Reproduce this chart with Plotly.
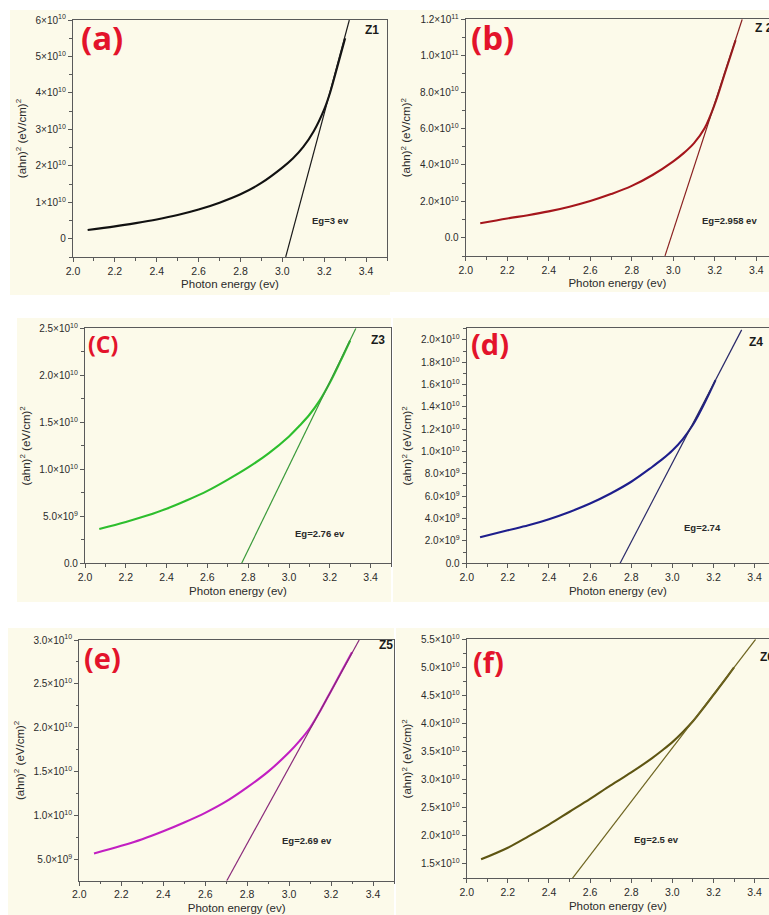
import plotly.graph_objects as go

W, H = 769, 915

# ---------------- data ----------------
x_tick_vals = [2.0, 2.2, 2.4, 2.6, 2.8, 3.0, 3.2, 3.4]
x_tick_text = ["2.0", "2.2", "2.4", "2.6", "2.8", "3.0", "3.2", "3.4"]

# (a) Z1
a_x = [2.07, 2.2, 2.3, 2.4, 2.5, 2.6, 2.7, 2.8, 2.9, 3.0, 3.05, 3.1, 3.15, 3.2, 3.225, 3.25, 3.3]
a_y = [0.24e10, 0.34e10, 0.43e10, 0.53e10, 0.65e10, 0.80e10, 0.99e10, 1.22e10, 1.53e10, 1.95e10,
       2.2e10, 2.52e10, 2.95e10, 3.55e10, 3.95e10, 4.45e10, 5.5e10]
a_fit_x = [3.016, 3.32]
a_fit_y = [-0.5e10, 6.0e10]
a_ytick_vals = [0, 1e10, 2e10, 3e10, 4e10, 5e10, 6e10]
a_ytick_text = ["0", "1×10<sup>10</sup>", "2×10<sup>10</sup>", "3×10<sup>10</sup>",
                "4×10<sup>10</sup>", "5×10<sup>10</sup>", "6×10<sup>10</sup>"]

# (b) Z2
b_x = [2.07, 2.2, 2.3, 2.4, 2.5, 2.6, 2.7, 2.8, 2.9, 3.0, 3.05, 3.1, 3.15, 3.2, 3.25, 3.3]
b_y = [0.80e10, 1.06e10, 1.24e10, 1.45e10, 1.71e10, 2.02e10, 2.4e10, 2.85e10, 3.45e10, 4.2e10,
       4.65e10, 5.2e10, 6.0e10, 7.35e10, 9.1e10, 10.85e10]
b_fit_x = [2.960, 3.332]
b_fit_y = [-0.99e10, 12.0e10]
b_ytick_vals = [0, 2e10, 4e10, 6e10, 8e10, 10e10, 12e10]
b_ytick_text = ["0.0", "2.0×10<sup>10</sup>", "4.0×10<sup>10</sup>", "6.0×10<sup>10</sup>",
                "8.0×10<sup>10</sup>", "1.0×10<sup>11</sup>", "1.2×10<sup>11</sup>"]

# (c) Z3
c_x = [2.07, 2.2, 2.3, 2.4, 2.5, 2.6, 2.7, 2.8, 2.9, 3.0, 3.05, 3.1, 3.15, 3.2, 3.25, 3.3]
c_y = [0.365e10, 0.44e10, 0.505e10, 0.58e10, 0.67e10, 0.77e10, 0.89e10, 1.02e10, 1.17e10, 1.35e10,
       1.46e10, 1.58e10, 1.73e10, 1.92e10, 2.14e10, 2.37e10]
c_fit_x = [2.768, 3.328]
c_fit_y = [0.0, 2.5e10]
c_ytick_vals = [0, 0.5e10, 1.0e10, 1.5e10, 2.0e10, 2.5e10]
c_ytick_text = ["0.0", "5.0×10<sup>9</sup>", "1.0×10<sup>10</sup>", "1.5×10<sup>10</sup>",
                "2.0×10<sup>10</sup>", "2.5×10<sup>10</sup>"]

# (d) Z4
d_x = [2.065, 2.2, 2.3, 2.4, 2.5, 2.6, 2.7, 2.8, 2.9, 2.95, 3.0, 3.05, 3.1, 3.15, 3.21]
d_y = [0.233e10, 0.295e10, 0.34e10, 0.395e10, 0.46e10, 0.535e10, 0.625e10, 0.73e10, 0.86e10,
       0.93e10, 1.01e10, 1.11e10, 1.24e10, 1.41e10, 1.64e10]
d_fit_x = [2.746, 3.337]
d_fit_y = [0.0, 2.09e10]
d_ytick_vals = [0, 0.2e10, 0.4e10, 0.6e10, 0.8e10, 1.0e10, 1.2e10, 1.4e10, 1.6e10, 1.8e10, 2.0e10]
d_ytick_text = ["0.0", "2.0×10<sup>9</sup>", "4.0×10<sup>9</sup>", "6.0×10<sup>9</sup>",
                "8.0×10<sup>9</sup>", "1.0×10<sup>10</sup>", "1.2×10<sup>10</sup>",
                "1.4×10<sup>10</sup>", "1.6×10<sup>10</sup>", "1.8×10<sup>10</sup>",
                "2.0×10<sup>10</sup>"]

# (e) Z5
e_x = [2.07, 2.2, 2.3, 2.4, 2.5, 2.6, 2.7, 2.8, 2.9, 3.0, 3.05, 3.1, 3.15, 3.2, 3.25, 3.3]
e_y = [0.568e10, 0.655e10, 0.73e10, 0.82e10, 0.92e10, 1.03e10, 1.16e10, 1.32e10, 1.5e10, 1.72e10,
       1.85e10, 2.0e10, 2.2e10, 2.42e10, 2.64e10, 2.86e10]
e_fit_x = [2.703, 3.334]
e_fit_y = [0.257e10, 3.0e10]
e_ytick_vals = [0.5e10, 1.0e10, 1.5e10, 2.0e10, 2.5e10, 3.0e10]
e_ytick_text = ["5.0×10<sup>9</sup>", "1.0×10<sup>10</sup>", "1.5×10<sup>10</sup>",
                "2.0×10<sup>10</sup>", "2.5×10<sup>10</sup>", "3.0×10<sup>10</sup>"]

# (f) Z6
f_x = [2.07, 2.2, 2.3, 2.4, 2.5, 2.6, 2.7, 2.8, 2.9, 2.95, 3.0, 3.05, 3.1, 3.15, 3.2, 3.25, 3.3]
f_y = [1.583e10, 1.79e10, 1.99e10, 2.2e10, 2.43e10, 2.66e10, 2.9e10, 3.13e10, 3.38e10, 3.52e10,
       3.67e10, 3.845e10, 4.04e10, 4.27e10, 4.51e10, 4.75e10, 5.0e10]
f_fit_x = [2.514, 3.405]
f_fit_y = [1.245e10, 5.5e10]
f_ytick_vals = [1.5e10, 2.0e10, 2.5e10, 3.0e10, 3.5e10, 4.0e10, 4.5e10, 5.0e10, 5.5e10]
f_ytick_text = ["1.5×10<sup>10</sup>", "2.0×10<sup>10</sup>", "2.5×10<sup>10</sup>",
                "3.0×10<sup>10</sup>", "3.5×10<sup>10</sup>", "4.0×10<sup>10</sup>",
                "4.5×10<sup>10</sup>", "5.0×10<sup>10</sup>", "5.5×10<sup>10</sup>"]

panel_labels = ["(a)", "(b)", "(C)", "(d)", "(e)", "(f)"]
sample_labels = ["Z1", "Z 2", "Z3", "Z4", "Z5", "Z6"]
eg_labels = ["Eg=3 ev", "Eg=2.958 ev", "Eg=2.76 ev", "Eg=2.74", "Eg=2.69 ev", "Eg=2.5 ev"]

# ---------------- styling / layout ----------------
CREAM = "#FCFAEA"
FRAME = "#5a5a5a"
TXT = "#2b2b2b"
RED = "#E3132B"
FONT = "Liberation Sans, Arial"

panels = [
    dict(x=a_x, y=a_y, fx=a_fit_x, fy=a_fit_y, tv=a_ytick_vals, tt=a_ytick_text,
         box=(73, 387, 20, 257), xr=[2.0, 3.5], yr=[-0.5e10, 6.0e10], ymin=0.5e10,
         col="#111111", fcol="#1a1a1a", right=True,
         bg=(10, 390, 10, 295),
         lab=(79, 13, 33), z=(381, 30, "right"), eg=(310, 220)),
    dict(x=b_x, y=b_y, fx=b_fit_x, fy=b_fit_y, tv=b_ytick_vals, tt=b_ytick_text,
         box=(465.7, 769, 19.3, 256), xr=[2.0, 3.461], yr=[-1.0e10, 12.0e10], ymin=1e10,
         col="#A5161C", fcol="#8a2020", right=False,
         bg=(389, 769, 10, 292),
         lab=(469, 13, 33), z=(753, 28, "left"), eg=(700, 220)),
    dict(x=c_x, y=c_y, fx=c_fit_x, fy=c_fit_y, tv=c_ytick_vals, tt=c_ytick_text,
         box=(85, 391, 328.3, 563.3), xr=[2.0, 3.5], yr=[0.0, 2.5e10], ymin=0.25e10,
         col="#2DBE2D", fcol="#3a9a3a", right=True,
         bg=(17, 391, 318, 602),
         lab=(86, 326, 23), z=(387, 340, "right"), eg=(293, 533)),
    dict(x=d_x, y=d_y, fx=d_fit_x, fy=d_fit_y, tv=d_ytick_vals, tt=d_ytick_text,
         box=(466.7, 769, 328.3, 563.3), xr=[2.0, 3.47], yr=[0.0, 2.104e10], ymin=0.1e10,
         col="#1E1E8C", fcol="#2a2a6a", right=False,
         bg=(393, 769, 318, 602),
         lab=(469, 322, 29), z=(747, 342, "left"), eg=(682, 527)),
    dict(x=e_x, y=e_y, fx=e_fit_x, fy=e_fit_y, tv=e_ytick_vals, tt=e_ytick_text,
         box=(79.3, 394, 640, 880.7), xr=[2.0, 3.5], yr=[0.257e10, 3.0e10], ymin=0.25e10,
         col="#C21FC2", fcol="#8a2a7a", right=True,
         bg=(8, 394, 628, 915),
         lab=(82, 636, 29), z=(377, 645, "left"), eg=(280, 840)),
    dict(x=f_x, y=f_y, fx=f_fit_x, fy=f_fit_y, tv=f_ytick_vals, tt=f_ytick_text,
         box=(466.7, 769, 639.3, 878.3), xr=[2.0, 3.47], yr=[1.245e10, 5.5e10], ymin=0.25e10,
         col="#5E5512", fcol="#6e6420", right=False,
         bg=(396, 769, 628, 915),
         lab=(471, 640, 29), z=(758, 657, "left"), eg=(632, 839)),
]

fig = go.Figure()
shapes = []
annotations = []
layout = {}

for i, p in enumerate(panels):
    n = i + 1
    xa = "x" if n == 1 else f"x{n}"
    ya = "y" if n == 1 else f"y{n}"
    xkey = "xaxis" if n == 1 else f"xaxis{n}"
    ykey = "yaxis" if n == 1 else f"yaxis{n}"
    L, R, T, B = p["box"]

    bl, br, bt, bb = p["bg"]
    shapes.append(dict(type="rect", xref="paper", yref="paper",
                       x0=bl / W, x1=br / W, y0=1 - bb / H, y1=1 - bt / H,
                       fillcolor=CREAM, line=dict(width=0), layer="below"))

    fig.add_trace(go.Scatter(x=p["x"], y=p["y"], mode="lines", xaxis=xa, yaxis=ya,
                             line=dict(color=p["col"], width=2.1, shape="spline", smoothing=1.0),
                             showlegend=False, hoverinfo="skip"))
    fig.add_trace(go.Scatter(x=p["fx"], y=p["fy"], mode="lines", xaxis=xa, yaxis=ya,
                             line=dict(color=p["fcol"], width=1.2),
                             showlegend=False, hoverinfo="skip"))

    layout[xkey] = dict(
        domain=[L / W, min(R / W, 1.0)], anchor=ya, range=p["xr"], automargin=False,
        tickmode="array", tickvals=x_tick_vals, ticktext=x_tick_text,
        ticks="outside", ticklen=4, tickwidth=1, tickcolor=FRAME,
        minor=dict(tickmode="linear", tick0=2.1, dtick=0.2, ticks="outside",
                   ticklen=2.5, tickcolor=FRAME),
        showline=True, linecolor=FRAME, linewidth=1.3, mirror=True,
        showgrid=False, zeroline=False,
        tickfont=dict(family=FONT, size=10.5, color=TXT),
        title=dict(text="Photon energy (ev)", standoff=4,
                   font=dict(family=FONT, size=11.5, color=TXT)),
    )
    layout[ykey] = dict(
        domain=[1 - B / H, 1 - T / H], anchor=xa, range=p["yr"], automargin=False,
        tickmode="array", tickvals=p["tv"], ticktext=p["tt"],
        ticks="outside", ticklen=4, tickwidth=1, tickcolor=FRAME,
        minor=dict(tickmode="linear", tick0=p["tv"][0] + p["ymin"], dtick=2 * p["ymin"],
                   ticks="outside", ticklen=2.5, tickcolor=FRAME),
        showline=True, linecolor=FRAME, linewidth=1.3, mirror=p["right"],
        showgrid=False, zeroline=False,
        tickfont=dict(family=FONT, size=10, color=TXT),
        title=dict(text="(ahn)<sup>2</sup> (eV/cm)<sup>2</sup>", standoff=6,
                   font=dict(family=FONT, size=11.5, color=TXT)),
    )

    lx, ly, ls = p["lab"]
    annotations.append(dict(xref="paper", yref="paper", x=lx / W, y=1 - ly / H,
                            xanchor="left", yanchor="top", showarrow=False,
                            text=f"<b>{panel_labels[i]}</b>",
                            font=dict(family="Open Sans, Noto Sans", size=ls, color=RED)))
    zx, zy, za = p["z"]
    annotations.append(dict(xref="paper", yref="paper", x=zx / W, y=1 - zy / H,
                            xanchor=za, yanchor="middle", showarrow=False,
                            text=f"<b>{sample_labels[i]}</b>",
                            font=dict(family=FONT, size=12, color="#1a1a1a")))
    ex, ey = p["eg"]
    annotations.append(dict(xref="paper", yref="paper", x=ex / W, y=1 - ey / H,
                            xanchor="left", yanchor="middle", showarrow=False,
                            text=f"<b>{eg_labels[i]}</b>",
                            font=dict(family=FONT, size=9.5, color="#2a2a2a")))

fig.update_layout(
    width=W, height=H, margin=dict(l=0, r=0, t=0, b=0, autoexpand=False),
    paper_bgcolor="white", plot_bgcolor=CREAM,
    shapes=shapes, annotations=annotations, showlegend=False,
    **layout,
)

fig.write_html("out.html", config={"displayModeBar": False},
               post_script="document.body.style.margin='0px';document.body.style.overflow='hidden';")
